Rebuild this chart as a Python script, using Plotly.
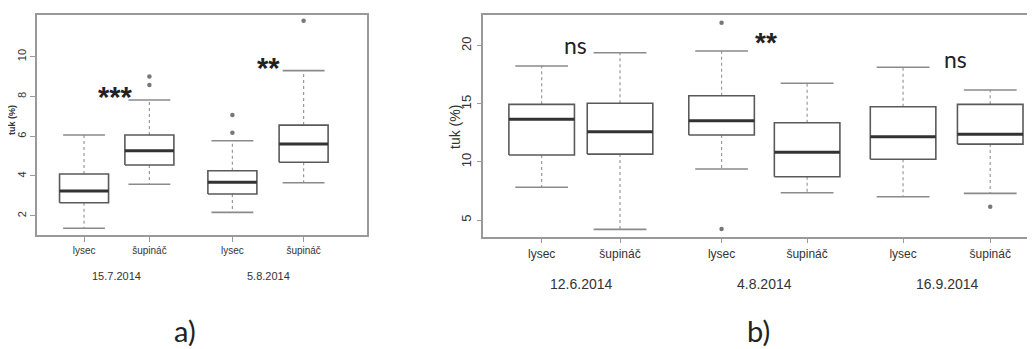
import plotly.graph_objects as go

OFF = 8  # default page body margin
W, H = 1035 - OFF, 349 - OFF

# ---------------- data ----------------
a_groups = ["lysec", "šupináč", "lysec", "šupináč"]
a_dates = ["15.7.2014", "5.8.2014"]
a_q1 = [2.65, 4.55, 3.09, 4.69]
a_med = [3.24, 5.27, 3.68, 5.61]
a_q3 = [4.10, 6.06, 4.26, 6.56]
a_lo = [1.37, 3.58, 2.17, 3.66]
a_hi = [6.06, 7.82, 5.77, 9.30]
a_out = [[], [8.58, 9.00], [6.18, 7.07], [11.81]]
a_sig = ["***", "**"]
a_yticks = [2, 4, 6, 8, 10]

b_groups = ["lysec", "šupináč", "lysec", "šupináč", "lysec", "šupináč"]
b_dates = ["12.6.2014", "4.8.2014", "16.9.2014"]
b_q1 = [10.60, 10.68, 12.32, 8.73, 10.23, 11.54]
b_med = [13.67, 12.60, 13.55, 10.83, 12.17, 12.38]
b_q3 = [14.96, 15.05, 15.70, 13.38, 14.75, 14.96]
b_lo = [7.82, 4.20, 9.39, 7.35, 7.01, 7.30]
b_hi = [18.26, 19.40, 19.55, 16.77, 18.15, 16.19]
b_out = [[], [], [21.98, 4.23], [], [], [6.15]]
b_sig = ["ns", "**", "ns"]
b_yticks = [5, 10, 15, 20]

# ---------------- layout helpers ----------------
a_pos = [1, 2, 3.27, 4.36]
b_pos = [1, 1.98, 3.25, 4.32, 5.52, 6.61]

def px(x):
    return (x - OFF) / W

def py(y):
    return 1 - (y - OFF) / H

BOX_C = "#5a5a5a"
MED_C = "#333333"
CAP_C = "#8a8a8a"
WH_C = "#9a9a9a"
AX_C = "#999999"
TXT_C = "#333333"

fig = go.Figure()

def add_boxes(xa, ya, pos, q1, med, q3, lo, hi, outs, bw, cw):
    for i, p in enumerate(pos):
        l, r = p - bw / 2, p + bw / 2
        fig.add_trace(go.Scatter(x=[p, p, None, p, p], y=[q3[i], hi[i], None, q1[i], lo[i]],
                                 mode="lines", line=dict(color=WH_C, width=1.2, dash="dot"),
                                 xaxis=xa, yaxis=ya, hoverinfo="skip", showlegend=False))
        fig.add_trace(go.Scatter(x=[p - cw / 2, p + cw / 2, None, p - cw / 2, p + cw / 2],
                                 y=[hi[i], hi[i], None, lo[i], lo[i]],
                                 mode="lines", line=dict(color=CAP_C, width=1.6),
                                 xaxis=xa, yaxis=ya, hoverinfo="skip", showlegend=False))
        fig.add_trace(go.Scatter(x=[l, r, r, l, l], y=[q1[i], q1[i], q3[i], q3[i], q1[i]],
                                 mode="lines", fill="toself", fillcolor="white",
                                 line=dict(color=BOX_C, width=1.6),
                                 xaxis=xa, yaxis=ya, hoverinfo="skip", showlegend=False))
        fig.add_trace(go.Scatter(x=[l, r], y=[med[i], med[i]], mode="lines",
                                 line=dict(color=MED_C, width=3),
                                 xaxis=xa, yaxis=ya, hoverinfo="skip", showlegend=False))
        if outs[i]:
            fig.add_trace(go.Scatter(x=[p] * len(outs[i]), y=outs[i], mode="markers",
                                     marker=dict(color="#777777", size=4.5),
                                     xaxis=xa, yaxis=ya, hoverinfo="skip", showlegend=False))

add_boxes("x", "y", a_pos, a_q1, a_med, a_q3, a_lo, a_hi, a_out, 0.75, 0.64)
add_boxes("x2", "y2", b_pos, b_q1, b_med, b_q3, b_lo, b_hi, b_out, 0.82, 0.66)

FONT = "Liberation Sans, Arial"
tickfont_a = dict(family=FONT, size=10, color=TXT_C)
tickfont_b = dict(family=FONT, size=12, color=TXT_C)

fig.update_layout(
    width=W, height=H, margin=dict(l=0, r=0, t=0, b=0),
    paper_bgcolor="white", plot_bgcolor="white", showlegend=False,
    xaxis=dict(domain=[px(37), px(367)], range=[0.28, 5.33], anchor="y",
               tickvals=a_pos, ticktext=a_groups, ticks="outside", ticklen=5,
               tickcolor=AX_C, showline=True, linecolor=AX_C, linewidth=1.5, mirror=True,
               showgrid=False, zeroline=False, tickfont=tickfont_a),
    yaxis=dict(domain=[py(235), py(15)], range=[1.03, 12.1], anchor="x",
               tickvals=a_yticks, ticks="outside", ticklen=5, tickangle=-90,
               tickcolor=AX_C, showline=True, linecolor=AX_C, linewidth=1.5, mirror=True,
               showgrid=False, zeroline=False, tickfont=dict(tickfont_a, size=11)),
    xaxis2=dict(domain=[px(483.3), 1.0], range=[0.27, 7.17], anchor="y2",
                tickvals=b_pos, ticktext=b_groups, ticks="outside", ticklen=5,
                tickcolor=AX_C, showline=True, linecolor=AX_C, linewidth=1.5, mirror=True,
                showgrid=False, zeroline=False, tickfont=tickfont_b),
    yaxis2=dict(domain=[py(236.7), py(15)], range=[3.57, 22.65], anchor="x2",
                tickvals=b_yticks, ticks="outside", ticklen=5, tickangle=-90,
                tickcolor=AX_C, showline=True, linecolor=AX_C, linewidth=1.5, mirror=False,
                showgrid=False, zeroline=False, tickfont=dict(tickfont_b, size=13)),
)

def A(**kw):
    kw.setdefault("showarrow", False)
    kw.setdefault("xanchor", "center")
    kw.setdefault("yanchor", "middle")
    return kw

ann = []
a_sig_x = [1.475, 3.83]
a_sig_y = [8.24, 9.67]
for t, x, y in zip(a_sig, a_sig_x, a_sig_y):
    ann.append(A(x=x, y=y, xref="x", yref="y", text="<b>" + t + "</b>", yshift=-5,
                 font=dict(family=FONT, size=29, color="#222222")))
b_sig_x = [1.42, 3.80, 6.17]
b_sig_y = [20.06, 20.69, 18.86]
for t, x, y in zip(b_sig, b_sig_x, b_sig_y):
    if t == "ns":
        ann.append(A(x=x, y=y, xref="x2", yref="y2", text=t,
                     font=dict(family="Lato", size=23, color="#222222")))
    else:
        ann.append(A(x=x, y=y, xref="x2", yref="y2", text="<b>" + t + "</b>", yshift=-5,
                     font=dict(family=FONT, size=28, color="#222222")))
for d, x in zip(a_dates, [(a_pos[0] + a_pos[1]) / 2, (a_pos[2] + a_pos[3]) / 2]):
    ann.append(A(x=x, y=py(276), xref="x", yref="paper", text=d,
                 font=dict(family=FONT, size=11, color=TXT_C)))
for k, d in enumerate(b_dates):
    x = (b_pos[2 * k] + b_pos[2 * k + 1]) / 2
    ann.append(A(x=x, y=py(284), xref="x2", yref="paper", text=d,
                 font=dict(family=FONT, size=14, color=TXT_C)))
ann.append(A(x=px(12), y=py(120), xref="paper", yref="paper", text="<b>tuk (%)</b>",
             textangle=-90, font=dict(family=FONT, size=9, color=TXT_C)))
ann.append(A(x=px(455), y=py(127), xref="paper", yref="paper", text="tuk (%)",
             textangle=-90, font=dict(family=FONT, size=14, color=TXT_C)))
ann.append(A(x=px(185), y=py(330), xref="paper", yref="paper", text="a)",
             font=dict(family="Lato", size=29, color="#222222")))
ann.append(A(x=px(758), y=py(330), xref="paper", yref="paper", text="b)",
             font=dict(family="Lato", size=29, color="#222222")))
fig.update_layout(annotations=ann)

fig.write_html("out.html")
